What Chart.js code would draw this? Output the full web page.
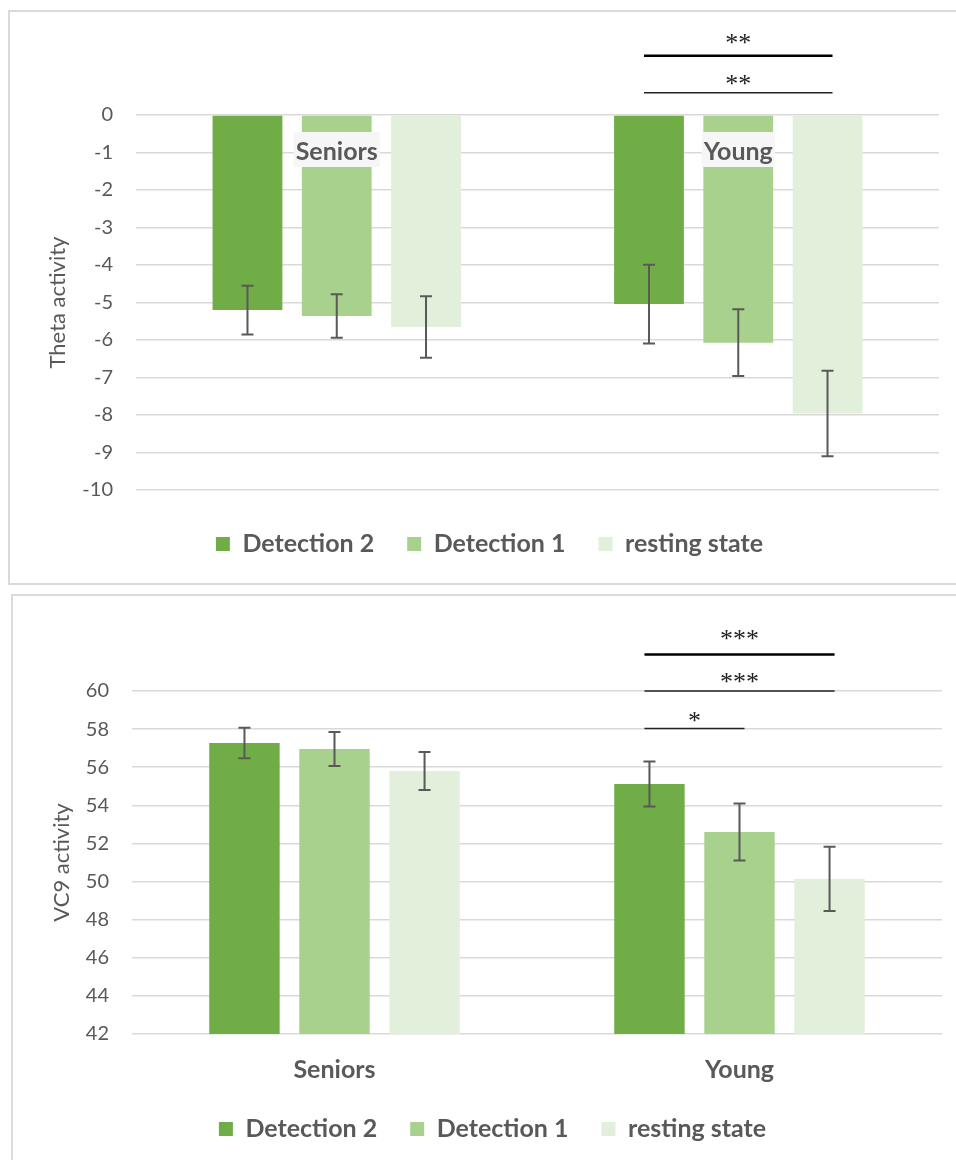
<!DOCTYPE html>
<html>
<head>
<meta charset="utf-8">
<script src="https://cdn.jsdelivr.net/npm/chart.js@4.4.0/dist/chart.umd.min.js"></script>
<style>
  html, body { margin: 0; padding: 0; background: #fff; width: 956px; height: 1160px; overflow: hidden; }
  body { position: relative; }
  .panel { position: absolute; border: 2px solid #dadada; box-sizing: border-box; }
  #panelTheta { left: 8px; top: 10px; width: 1000px; height: 575px; }
  #panelVc9 { left: 11px; top: 594px; width: 1000px; height: 620px; }
  canvas { position: absolute; left: 0; }
  #thetaChart { top: 0; }
  #vc9Chart { top: 590px; }
</style>
</head>
<body>
<div class="panel" id="panelTheta"></div>
<div class="panel" id="panelVc9"></div>
<canvas id="thetaChart" width="956" height="590"></canvas>
<canvas id="vc9Chart" width="956" height="570"></canvas>
<script>
// Groups and conditions
const groups = ['Seniors', 'Young'];
const seriesNames = ['Detection 2', 'Detection 1', 'resting state'];
const seriesColors = ['#70AD47', '#A9D18E', '#E2EFDA'];

// Theta activity: means and error bars
const thetaDetection2 = [-5.20, -5.04];
const thetaDetection1 = [-5.36, -6.07];
const thetaResting = [-5.65, -7.96];
const thetaErrDetection2 = [0.65, 1.05];
const thetaErrDetection1 = [0.58, 0.89];
const thetaErrResting = [0.82, 1.14];
const thetaAxis = [-10, 0, 1];   // min, max, step

// VC9 activity: means and error bars
const vc9Detection2 = [57.27, 55.12];
const vc9Detection1 = [56.96, 52.60];
const vc9Resting = [55.80, 50.14];
const vc9ErrDetection2 = [0.80, 1.18];
const vc9ErrDetection1 = [0.89, 1.50];
const vc9ErrResting = [1.00, 1.68];
const vc9Axis = [42, 60, 2];

// Significance comparisons: [group index, from series, to series, label]
const thetaSignif = [[1, 0, 2, '**'], [1, 0, 2, '**']];
const vc9Signif = [[1, 0, 2, '***'], [1, 0, 2, '***'], [1, 0, 1, '*']];

const GREY = '#595959';
const FONT = 'Lato';

// Error bars drawn from each dataset's own error array
const errorBarPlugin = {
  id: 'errorBars',
  afterDatasetsDraw(chart) {
    const ctx = chart.ctx;
    const y = chart.scales.y;
    ctx.save();
    ctx.strokeStyle = GREY;
    ctx.lineWidth = 2;
    chart.data.datasets.forEach((ds, di) => {
      const meta = chart.getDatasetMeta(di);
      meta.data.forEach((bar, i) => {
        const v = ds.data[i], e = ds.errors[i];
        const y1 = y.getPixelForValue(v + e), y2 = y.getPixelForValue(v - e);
        ctx.beginPath();
        ctx.moveTo(bar.x, y1); ctx.lineTo(bar.x, y2);
        ctx.moveTo(bar.x - 6, y1); ctx.lineTo(bar.x + 6, y1);
        ctx.moveTo(bar.x - 6, y2); ctx.lineTo(bar.x + 6, y2);
        ctx.stroke();
      });
    });
    ctx.restore();
  }
};

// Significance brackets placed above the compared bars
const signifPlugin = {
  id: 'signif',
  afterDraw(chart, args, opts) {
    const ctx = chart.ctx;
    const top = chart.chartArea.top;
    ctx.save();
    opts.items.forEach((it, k) => {
      const row = opts.rows[k];
      const [g, a, b, label] = it;
      const xa = chart.getDatasetMeta(a).data[g].x - 5;
      const xb = chart.getDatasetMeta(b).data[g].x + 5;
      ctx.strokeStyle = row.w > 2 ? '#000' : '#222';
      ctx.lineWidth = row.w;
      ctx.beginPath();
      ctx.moveTo(xa, top + row.line);
      ctx.lineTo(xb, top + row.line);
      ctx.stroke();
      ctx.fillStyle = '#222';
      ctx.font = '26px "Liberation Serif"';
      ctx.textAlign = 'center';
      ctx.textBaseline = 'alphabetic';
      ctx.fillText(label, (xa + xb) / 2, top + row.text);
    });
    ctx.restore();
  }
};

// Group labels set just under the zero line, over the bars
const groupLabelPlugin = {
  id: 'groupLabels',
  afterDatasetsDraw(chart, args, opts) {
    if (!opts.show) return;
    const ctx = chart.ctx;
    const x = chart.scales.x, y = chart.scales.y;
    const y0 = y.getPixelForValue(0);
    ctx.save();
    ctx.font = 'bold 25px ' + FONT;
    ctx.textAlign = 'center';
    ctx.textBaseline = 'alphabetic';
    chart.data.labels.forEach((lab, i) => {
      const cx = x.getPixelForValue(i);
      const w = ctx.measureText(lab).width + 4;
      ctx.fillStyle = '#f6f6f6';
      ctx.fillRect(cx - w / 2, y0 + 17, w, 35);
      ctx.fillStyle = GREY;
      ctx.fillText(lab, cx, y0 + 45);
    });
    ctx.restore();
  }
};

function makeDatasets(values, errors) {
  return values.map((v, i) => ({
    label: seriesNames[i],
    data: v,
    errors: errors[i],
    backgroundColor: seriesColors[i],
    borderWidth: 0,
    categoryPercentage: 0.667,
    barPercentage: 0.782
  }));
}

function makeChart(id, cfg) {
  return new Chart(document.getElementById(id), {
    type: 'bar',
    data: { labels: groups, datasets: makeDatasets(cfg.values, cfg.errors) },
    plugins: [errorBarPlugin, signifPlugin, groupLabelPlugin],
    options: {
      responsive: false,
      animation: false,
      devicePixelRatio: 1,
      layout: { padding: cfg.padding },
      plugins: {
        tooltip: { enabled: false },
        legend: {
          position: 'bottom',
          labels: {
            boxWidth: 14, boxHeight: 14, padding: 33,
            color: GREY,
            font: { family: FONT, size: 25, weight: 'bold' }
          }
        },
        signif: { items: cfg.signif, rows: cfg.signifRows },
        groupLabels: { show: cfg.groupLabelsInside }
      },
      scales: {
        x: {
          grid: { display: false, drawTicks: false },
          border: { display: false },
          ticks: {
            display: !cfg.groupLabelsInside,
            color: GREY, padding: 21,
            font: { family: FONT, size: 25, weight: 'bold', lineHeight: 1.2 }
          },
          afterFit(s) { s.height = cfg.xHeight; }
        },
        y: {
          min: cfg.axis[0], max: cfg.axis[1],
          grid: { color: '#d9d9d9', lineWidth: 1.5, drawTicks: false },
          border: { display: false },
          ticks: {
            stepSize: cfg.axis[2], color: GREY, padding: 23,
            font: { family: FONT, size: 20 }
          },
          title: {
            display: true, text: cfg.title, color: GREY,
            font: { family: FONT, size: 22 },
            padding: { top: cfg.titlePad, bottom: 0 }
          },
          afterFit(s) { s.width = cfg.yWidth; }
        }
      }
    }
  });
}

makeChart('thetaChart', {
  values: [thetaDetection2, thetaDetection1, thetaResting],
  errors: [thetaErrDetection2, thetaErrDetection1, thetaErrResting],
  axis: thetaAxis,
  title: 'Theta activity',
  padding: { left: 40, right: 17, top: 115, bottom: 23.5 },
  yWidth: 96,
  titlePad: 4.8,
  xHeight: 8.5,
  groupLabelsInside: true,
  signif: thetaSignif,
  signifRows: [{ line: -59.3, text: -64, w: 2.5 }, { line: -22.3, text: -23, w: 1.5 }]
});

makeChart('vc9Chart', {
  values: [vc9Detection2, vc9Detection1, vc9Resting],
  errors: [vc9ErrDetection2, vc9ErrDetection1, vc9ErrResting],
  axis: vc9Axis,
  title: 'VC9 activity',
  padding: { left: 43, right: 14, top: 101, bottom: 8.5 },
  yWidth: 89,
  titlePad: 5.8,
  xHeight: 49.5,
  groupLabelsInside: false,
  signif: vc9Signif,
  signifRows: [{ line: -36.4, text: -43.7, w: 2.5 }, { line: 0, text: -1.5, w: 1.5 }, { line: 37.6, text: 38, w: 1.5 }]
});
</script>
</body>
</html>
